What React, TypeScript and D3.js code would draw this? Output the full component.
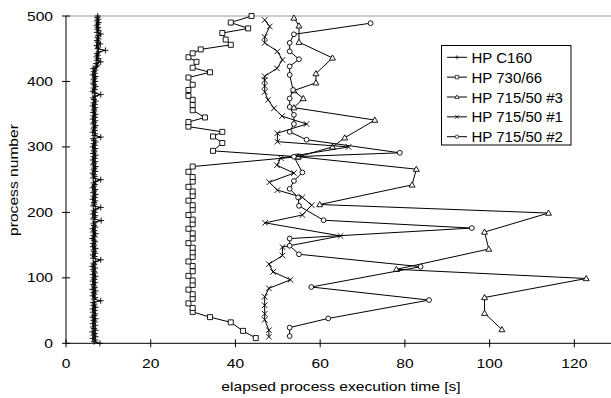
import React, { useEffect, useRef } from "react";
import * as d3 from "d3";

// process number / elapsed time [s] per machine
const c160Process = [
    0, 2.5, 5, 7.5, 10, 12.5, 15, 17.5, 20, 22.5, 25, 27.5, 30, 32.5, 35, 37.5, 40, 42.5, 45, 47.5,
    50, 52.5, 55, 57.5, 60, 62.5, 65, 67.5, 70, 72.5, 75, 77.5, 80, 82.5, 85, 87.5, 90, 92.5, 95, 97.5,
    100, 102.5, 105, 107.5, 110, 112.5, 115, 117.5, 120, 122.5, 125, 127.5, 130, 132.5, 135, 137.5, 140, 142.5, 145, 147.5,
    150, 152.5, 155, 157.5, 160, 162.5, 165, 167.5, 170, 172.5, 175, 177.5, 180, 182.5, 185, 187.5, 190, 192.5, 195, 197.5,
    200, 202.5, 205, 207.5, 210, 212.5, 215, 217.5, 220, 222.5, 225, 227.5, 230, 232.5, 235, 237.5, 240, 242.5, 245, 247.5,
    250, 252.5, 255, 257.5, 260, 262.5, 265, 267.5, 270, 272.5, 275, 277.5, 280, 282.5, 285, 287.5, 290, 292.5, 295, 297.5,
    300, 302.5, 305, 307.5, 310, 312.5, 315, 317.5, 320, 322.5, 325, 327.5, 330, 332.5, 335, 337.5, 340, 342.5, 345, 347.5,
    350, 352.5, 355, 357.5, 360, 362.5, 365, 367.5, 370, 372.5, 375, 377.5, 380, 382.5, 385, 387.5, 390, 392.5, 395, 397.5,
    400, 402.5, 405, 407.5, 410, 412.5, 415, 417.5, 420, 422.5, 425, 427.5, 430, 432.5, 435, 437.5, 440, 442.5, 445, 447.5,
    450, 452.5, 455, 457.5, 460, 462.5, 465, 467.5, 470, 472.5, 475, 477.5, 480, 482.5, 485, 487.5, 490, 492.5, 495, 497.5,
    500,
];
const c160Time = [
    8.0, 6.6, 6.9, 6.3, 7.0, 6.5, 6.8, 6.2, 7.0, 6.6, 6.4, 6.9, 6.3, 6.8, 6.5, 7.0, 6.2, 6.7, 6.9, 6.4,
    6.8, 6.3, 7.0, 6.5, 6.7, 6.4, 8.2, 6.6, 6.9, 6.3, 6.7, 6.5, 7.0, 6.2, 6.8, 6.6, 6.4, 6.9, 6.3, 6.7,
    6.5, 7.0, 6.3, 6.8, 6.6, 6.4, 6.9, 6.2, 6.7, 6.5, 7.0, 8.2, 6.4, 6.8, 6.3, 6.9, 6.6, 6.5, 7.0, 6.3,
    6.7, 6.4, 6.9, 6.6, 6.2, 6.8, 6.5, 7.0, 6.4, 6.7, 6.3, 6.9, 6.6, 6.5, 6.8, 8.3, 6.4, 6.7, 6.9, 6.3,
    6.8, 6.5, 7.0, 8.2, 6.4, 6.7, 6.6, 6.9, 6.3, 6.8, 6.5, 7.0, 6.4, 6.7, 6.9, 6.3, 6.6, 6.8, 6.5, 7.0,
    8.2, 6.4, 6.8, 6.6, 6.3, 6.9, 6.5, 6.7, 7.0, 6.4, 6.6, 6.9, 6.3, 6.8, 6.5, 7.0, 6.4, 6.7, 6.6, 6.9,
    6.3, 6.8, 6.5, 7.0, 6.6, 6.4, 8.2, 6.7, 6.9, 6.3, 6.8, 6.5, 6.7, 7.0, 6.4, 6.6, 6.9, 6.3, 6.8, 6.5,
    7.0, 6.4, 6.7, 6.6, 6.9, 6.3, 6.8, 6.5, 7.0, 6.6, 6.4, 6.9, 8.2, 6.7, 6.3, 6.8, 6.5, 7.0, 6.6, 6.4,
    6.9, 6.5, 6.7, 7.0, 6.3, 6.8, 6.6, 6.9, 6.4, 7.2, 7.4, 7.1, 8.2, 7.3, 7.6, 7.2, 7.5, 7.3, 7.7, 9.3,
    7.4, 7.6, 7.2, 8.1, 7.5, 7.3, 7.7, 7.4, 7.6, 8.2, 7.3, 7.7, 7.4, 7.6, 7.2, 7.5, 7.7, 7.3, 7.6, 7.4,
    7.5,
];

const hp730Process = [8, 19, 32, 40, 48, 54, 61, 68, 75, 82, 89, 96, 103, 110, 118, 125, 132, 139, 146, 153, 160, 168, 175, 182, 189, 196, 204, 211, 218, 225, 232, 239, 247, 254, 262, 270, 285, 294, 306, 316, 323, 331, 338, 345, 356, 364, 372, 378, 387, 395, 406, 414, 421, 430, 437, 443, 449, 456, 464, 474, 481, 490, 500];
const hp730Time = [44.8, 41.8, 38.9, 34.0, 29.9, 29.9, 28.9, 29.9, 29.9, 28.9, 29.9, 29.9, 28.9, 29.9, 29.9, 28.9, 29.9, 29.9, 29.9, 28.9, 29.9, 29.9, 28.9, 29.9, 29.9, 28.9, 29.9, 29.9, 28.9, 29.9, 29.9, 28.9, 29.9, 29.9, 28.9, 29.9, 54.8, 34.7, 36.9, 34.7, 36.9, 28.9, 28.9, 32.8, 29.9, 29.9, 29.9, 28.9, 28.9, 29.9, 28.9, 34.0, 29.9, 30.8, 28.9, 29.9, 31.8, 38.9, 37.7, 36.9, 43.0, 38.9, 43.8];

const hp3Process = [21, 46, 70, 99, 113, 144, 170, 199, 212, 242, 266, 285, 300, 314, 341, 360, 374, 386, 398, 412, 436, 460, 485, 497];
const hp3Time = [102.9, 98.8, 98.8, 122.8, 78, 99.8, 98.8, 113.9, 59.9, 81.7, 82.7, 54.8, 62.9, 65.8, 72.9, 53.8, 56, 53.8, 59, 59, 62.9, 55, 55, 53.8];

const hp1Process = [10, 20, 36, 45, 58, 71, 84, 97, 109, 121, 134, 147, 164, 184, 196, 211, 223, 234, 246, 260, 272, 283, 300, 308, 321, 335, 347, 359, 372, 384, 393, 402, 408, 420, 433, 446, 459, 468, 484, 494];
const hp1Time = [47.9, 47.9, 46.9, 46.9, 46.9, 46.9, 47.9, 53, 48.9, 47.9, 51.1, 51.1, 64.8, 47, 55.8, 58, 55.8, 49.9, 48, 53.8, 49.8, 50.7, 66.7, 49.9, 49.9, 56.8, 51, 49.1, 47.7, 46.9, 46.9, 46.9, 46.9, 49.8, 51.1, 49.9, 46.9, 46.9, 48.1, 46.9];

const hp2Process = [11, 24, 38, 66, 86, 117, 136, 149, 160, 176, 188, 210, 223, 236, 248, 261, 285, 291, 311, 323, 335, 349, 361, 374, 387, 410, 423, 434, 446, 459, 472, 489];
const hp2Time = [52.8, 52.8, 61.9, 85.7, 57.9, 83.7, 55, 52.8, 52.8, 95.8, 60.8, 55, 54.8, 52.8, 53.8, 55.8, 53.8, 78.8, 56.8, 52.8, 53.8, 53.8, 52.8, 52.8, 53.6, 52.8, 52.8, 55, 52.8, 52.8, 53.8, 71.9];

const seriesNames = ["HP C160", "HP 730/66", "HP 715/50 #3", "HP 715/50 #1", "HP 715/50 #2"];
const xTicks = [0, 20, 40, 60, 80, 100, 120];
const yTicks = [0, 100, 200, 300, 400, 500];

type Marker = "plus" | "square" | "triangle" | "times" | "circle";

const markerPath = (m: Marker): string => {
    switch (m) {
        case "plus":
            return "M-3,0H3M0,-3V3";
        case "square":
            return "M-2.5,-2.5H2.5V2.5H-2.5Z";
        case "triangle":
            return "M0,-3L3,2.2H-3Z";
        case "times":
            return "M-2.8,-2.8L2.8,2.8M-2.8,2.8L2.8,-2.8";
        default:
            return "M-2.4,0A2.4,2.4 0 1,0 2.4,0A2.4,2.4 0 1,0 -2.4,0Z";
    }
};

const App: React.FC = () => {
    const svgRef = useRef<SVGSVGElement | null>(null);

    useEffect(() => {
        if (!svgRef.current) return;
        const svg = d3.select(svgRef.current);
        svg.selectAll("*").remove();

        const width = 611;
        const height = 398;
        const font = "'Liberation Sans', Arial, sans-serif";

        const x = d3.scaleLinear().domain([0, 130]).range([66, 616.7]);
        const y = d3.scaleLinear().domain([0, 500]).range([343.3, 16]);

        svg.attr("width", width).attr("height", height);
        svg.append("rect").attr("width", width).attr("height", height).attr("fill", "#fff");

        // top border of plot area
        svg.append("line")
            .attr("x1", x(0)).attr("x2", width)
            .attr("y1", y(500)).attr("y2", y(500))
            .attr("stroke", "#9a9a9a").attr("stroke-width", 1);

        const series = [
            { name: seriesNames[0], proc: c160Process, time: c160Time, marker: "plus" as Marker },
            { name: seriesNames[1], proc: hp730Process, time: hp730Time, marker: "square" as Marker },
            { name: seriesNames[2], proc: hp3Process, time: hp3Time, marker: "triangle" as Marker },
            { name: seriesNames[3], proc: hp1Process, time: hp1Time, marker: "times" as Marker },
            { name: seriesNames[4], proc: hp2Process, time: hp2Time, marker: "circle" as Marker },
        ];

        const line = d3.line<[number, number]>()
            .x((d) => x(d[1]))
            .y((d) => y(d[0]));

        const plot = svg.append("g");
        series.forEach((s) => {
            const pts: [number, number][] = s.proc.map((p, i) => [p, s.time[i]]);
            plot.append("path")
                .datum(pts)
                .attr("d", line)
                .attr("fill", "none")
                .attr("stroke", "#000")
                .attr("stroke-width", 1);
            plot.selectAll(null)
                .data(pts)
                .join("path")
                .attr("transform", (d) => `translate(${x(d[1])},${y(d[0])})`)
                .attr("d", markerPath(s.marker))
                .attr("fill", s.marker === "plus" || s.marker === "times" ? "none" : "#fff")
                .attr("stroke", "#000")
                .attr("stroke-width", 0.9);
        });

        // axes
        const axes = svg.append("g").attr("stroke", "#000").attr("stroke-width", 1);
        axes.append("line").attr("x1", x(0)).attr("x2", x(0)).attr("y1", y(0)).attr("y2", y(500));
        axes.append("line").attr("x1", x(0)).attr("x2", width).attr("y1", y(0)).attr("y2", y(0));
        axes.selectAll("line.ytick").data(yTicks).join("line")
            .attr("class", "ytick")
            .attr("x1", x(0) - 4).attr("x2", x(0) + 4)
            .attr("y1", (d) => y(d)).attr("y2", (d) => y(d));
        axes.selectAll("line.xtick").data(xTicks).join("line")
            .attr("class", "xtick")
            .attr("x1", (d) => x(d)).attr("x2", (d) => x(d))
            .attr("y1", y(0) - 4).attr("y2", y(0) + 4);

        svg.selectAll("text.ylab").data(yTicks).join("text")
            .attr("class", "ylab")
            .attr("transform", (d) => `translate(53,${y(d) + 4.5}) scale(1.25,1)`)
            .attr("text-anchor", "end")
            .style("font-family", font)
            .attr("font-size", "12.5px")
            .attr("fill", "#000")
            .text((d) => d);

        svg.selectAll("text.xlab").data(xTicks).join("text")
            .attr("class", "xlab")
            .attr("transform", (d) => `translate(${x(d)},368) scale(1.25,1)`)
            .attr("text-anchor", "middle")
            .style("font-family", font)
            .attr("font-size", "12.5px")
            .attr("fill", "#000")
            .text((d) => d);

        svg.append("text")
            .attr("transform", `translate(341,391) scale(1.25,1)`)
            .attr("text-anchor", "middle")
            .style("font-family", font)
            .attr("font-size", "12.5px")
            .attr("fill", "#000")
            .text("elapsed process execution time [s]");

        svg.append("text")
            .attr("transform", `translate(17.5,180) rotate(-90) scale(1.25,1)`)
            .attr("text-anchor", "middle")
            .style("font-family", font)
            .attr("font-size", "12.5px")
            .attr("fill", "#000")
            .text("process number");

        // legend
        const legend = svg.append("g");
        legend.append("rect")
            .attr("x", 441.5).attr("y", 45.5)
            .attr("width", 129.5).attr("height", 99.5)
            .attr("fill", "#fff").attr("stroke", "#000").attr("stroke-width", 1);
        const rowY = d3.scaleLinear().domain([0, 4]).range([57.3, 136.7]);
        series.forEach((s, i) => {
            const cy = rowY(i);
            legend.append("line")
                .attr("x1", 447).attr("x2", 467)
                .attr("y1", cy).attr("y2", cy)
                .attr("stroke", "#000").attr("stroke-width", 1);
            legend.append("path")
                .attr("transform", `translate(457,${cy}) scale(0.7)`)
                .attr("d", markerPath(s.marker))
                .attr("fill", s.marker === "plus" || s.marker === "times" ? "none" : "#fff")
                .attr("stroke", "#000").attr("stroke-width", 1);
            legend.append("text")
                .attr("x", 471.5).attr("y", cy + 5.5)
                .style("font-family", font)
                .attr("font-size", "15px")
                .attr("fill", "#000")
                .text(s.name);
        });
    }, []);

    return (
        <svg ref={svgRef} style={{ position: "absolute", left: 0, top: 0, display: "block" }}></svg>
    );
};

export default App;
